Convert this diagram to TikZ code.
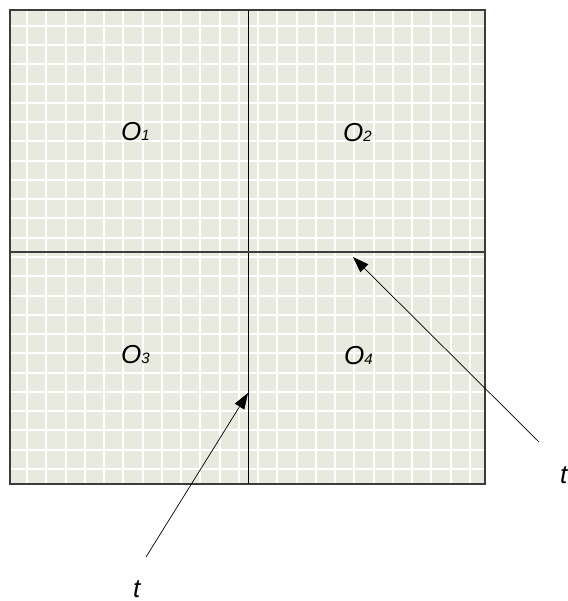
\documentclass[tikz,border=0pt]{standalone}
\usepackage{fontspec}
\setmainfont{Liberation Sans}
\usetikzlibrary{arrows.meta}
\definecolor{cellbg}{RGB}{233,234,223}
\definecolor{boxedge}{RGB}{60,60,60}
\tikzset{
  gridline/.style={white, line width=2pt},
  divider/.style={black, line width=1pt},
  pointer/.style={black, line width=0.7pt, -{Triangle[length=16pt,width=11pt]}},
  lbl/.style={inner sep=0pt, anchor=base west, font=\itshape\fontsize{26}{26}\selectfont},
}
\newcommand{\subdig}[1]{{\fontsize{15}{15}\selectfont #1}}
\begin{document}
\begin{tikzpicture}[x=1pt,y=-1pt]
\useasboundingbox (0,0) rectangle (567,601);
% background
\fill[cellbg] (10,10) rectangle (485,484);
\begin{scope}
\clip (10,10) rectangle (485,484);
\foreach \i in {0,...,23} {
  \draw[gridline] ({27+19.25*\i},10) -- ({27+19.25*\i},484);
  \draw[gridline] (10,{26+19.25*\i}) -- (485,{26+19.25*\i});
}
\end{scope}
\draw[boxedge, line width=1.2pt] (10,10) rectangle (485,484);
% dividers
\coordinate (vt) at (248,10);
\coordinate (vb) at (248,484);
\coordinate (hl) at (10,252);
\coordinate (hr) at (485,252);
\draw[divider] (vt) -- (vb);
\draw[divider, boxedge, line width=1.3pt] (hl) -- (hr);
% labels
\node[lbl] (o1) at (121,141) {O\subdig{1}};
\node[lbl] (o2) at (343,142) {O\subdig{2}};
\node[lbl] (o3) at (121,363) {O\subdig{3}};
\node[lbl] (o4) at (344,364) {O\subdig{4}};
\node[lbl] (tb) at (133,597) {t};
\node[lbl] (tr) at (560,483) {t};
% arrows
\coordinate (a1s) at (146,557);
\coordinate (a1e) at (248,393);
\coordinate (a2s) at (539,442);
\coordinate (a2e) at (353,257);
\draw[pointer] (a1s) -- (a1e);
\draw[pointer] (a2s) -- (a2e);
\end{tikzpicture}
\end{document}
